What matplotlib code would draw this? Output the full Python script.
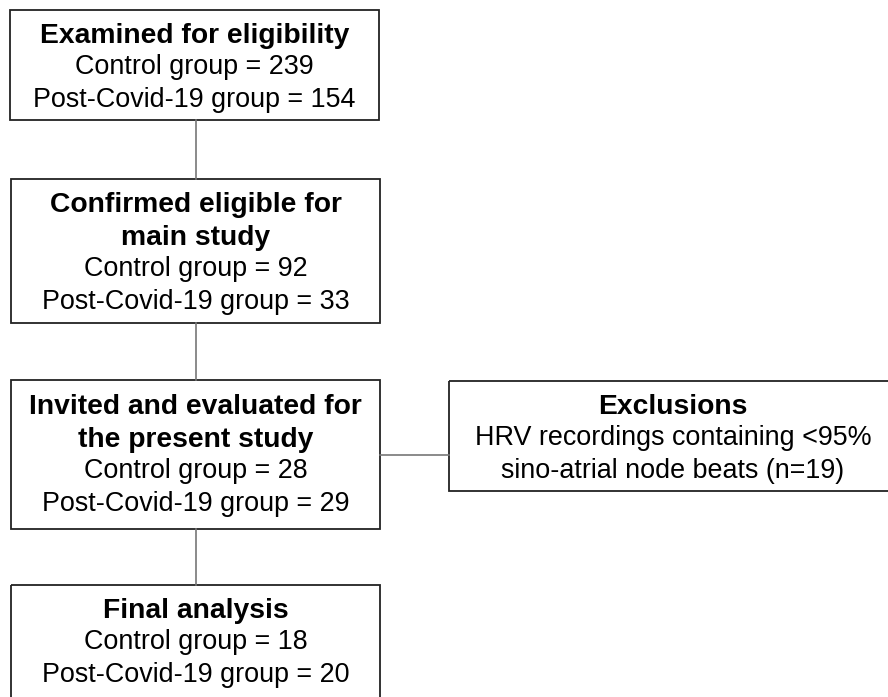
import matplotlib.pyplot as plt
from matplotlib.patches import Rectangle

plt.rcParams["font.family"] = ["Liberation Sans", "DejaVu Sans"]

# flowchart content
titles = [
    ["Examined for eligibility"],
    ["Confirmed eligible for", "main study"],
    ["Invited and evaluated for", "the present study"],
    ["Final analysis"],
]
control_n = [239, 92, 28, 18]
covid_n = [154, 33, 29, 20]

excl_title = "Exclusions"
excl_lines = ["HRV recordings containing <95%", "sino-atrial node beats (n=19)"]

# layout in pixels (x0, y0, x1, y1)
boxes = [(10, 10, 379, 120), (11, 179, 380, 323), (11, 380, 380, 529), (11, 585, 380, 702)]
first_line_y = [34, 203, 405, 609]
excl_box = (449, 381, 893, 491)
line_h = 33
fs = 19.4
fs_bold = 20.3
bold_shift = 2  # bold lines sit a little lower in the original

fig = plt.figure(figsize=(8.88, 6.97), dpi=100)
ax = fig.add_axes([0, 0, 1, 1])
ax.set_xlim(0, 888)
ax.set_ylim(697, 0)
ax.axis("off")


def draw_box(b):
    ax.add_patch(Rectangle((b[0], b[1]), b[2] - b[0], b[3] - b[1],
                           fill=False, edgecolor="#222222", linewidth=1.3))


for i, b in enumerate(boxes):
    draw_box(b)
    cx = (b[0] + b[2]) / 2
    y = first_line_y[i]
    for t in titles[i]:
        ax.text(cx, y + bold_shift, t, ha="center", va="center",
                fontsize=fs_bold, fontweight="bold")
        y += line_h
    ax.text(cx, y, f"Control group = {control_n[i]}", ha="center", va="center", fontsize=fs)
    y += line_h
    ax.text(cx, y, f"Post-Covid-19 group = {covid_n[i]}", ha="center", va="center", fontsize=fs)

# connectors
for a, b in zip(boxes[:-1], boxes[1:]):
    ax.plot([196, 196], [a[3], b[1]], color="#777777", linewidth=1.2)
ax.plot([boxes[2][2], excl_box[0]], [455, 455], color="#777777", linewidth=1.2)

# exclusions box
draw_box(excl_box)
cx = 673
ax.text(cx, 405 + bold_shift, excl_title, ha="center", va="center",
        fontsize=fs_bold, fontweight="bold")
for k, t in enumerate(excl_lines):
    ax.text(cx, 438 + k * line_h, t, ha="center", va="center", fontsize=fs)

fig.savefig("out.png", dpi=100)
